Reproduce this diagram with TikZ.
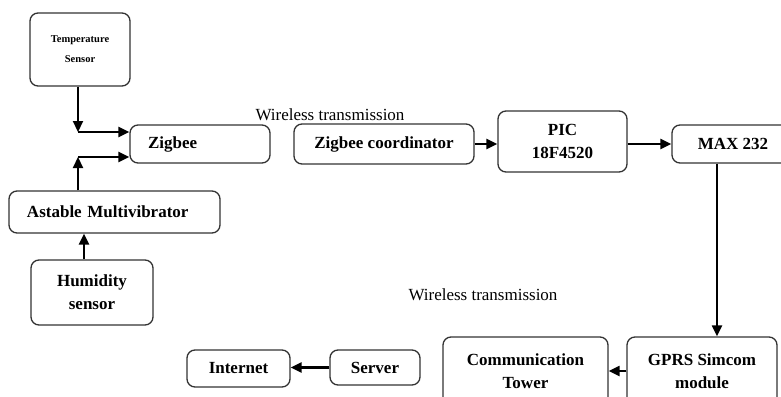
\documentclass[tikz,border=0pt]{standalone}
\usepackage{fontspec}
\setmainfont{Liberation Serif}
\usetikzlibrary{arrows.meta,positioning,calc}

\begin{document}
\begin{tikzpicture}[x=1pt, y=-1pt,
    box/.style={draw=black!80, line width=1.3pt, rounded corners=8pt, align=center,
                inner sep=0pt, font=\fontsize{17}{23}\selectfont\bfseries},
    link/.style={black, line width=2.2pt, -{Triangle[length=11pt,width=10pt]}},
    note/.style={inner sep=0pt, font=\fontsize{17}{20}\selectfont}
  ]
  \useasboundingbox (0,0) rectangle (781,396);

  % Sensoren
  \node[box, minimum width=100pt, minimum height=73pt,
        font=\fontsize{10.5}{20}\selectfont\bfseries] (temp) at (80,49.5) {Temperature\\Sensor};
  \node[box, minimum width=211pt, minimum height=42pt, text width=175pt,
        inner xsep=18pt, align=left] (astable) at (114.5,212) {Astable Multivibrator};
  \node[box, minimum width=122pt, minimum height=65pt] (hum) at (92,292.5) {Humidity\\sensor};
  \node[box, minimum width=140pt, minimum height=38pt, text width=104pt,
        inner xsep=18pt, align=left] (zig) at (200,144) {Zigbee};

  % Empfangsseite
  \node[box, minimum width=180pt, minimum height=40pt] (coord) at (384,144) {Zigbee coordinator};
  \node[box, minimum width=129pt, minimum height=61pt] (pic) at (562.5,141.5) {PIC\\18F4520};
  \node[box, minimum width=122pt, minimum height=38pt] (max) at (733,144) {MAX 232};

  % Weiterleitung
  \node[box, minimum width=150pt, minimum height=68pt] (gprs) at (702,371) {GPRS Simcom\\module};
  \node[box, minimum width=165pt, minimum height=68pt] (tower) at (525.5,371) {Communication\\Tower};
  \node[box, minimum width=90pt, minimum height=35pt] (server) at (375,367.5) {Server};
  \node[box, minimum width=103pt, minimum height=37pt] (inet) at (238.5,368.5) {Internet};

  % Beschriftungen
  \node[note, anchor=base] (wl1) at (330,120) {Wireless transmission};
  \node[note, anchor=base] (wl2) at (483,300) {Wireless transmission};

  % Verbindungen
  \coordinate (j1) at (78,132);
  \coordinate (j2) at (78,157);
  \draw[link] (temp.south -| j1) -- (j1);
  \draw[link] (j1) -- (j1 -| zig.west);
  \draw[link] (astable.north -| j2) -- (j2);
  \draw[link] (j2) -- (j2 -| zig.west);
  \draw[link] ([xshift=-8pt]hum.north) -- ([xshift=-8pt]hum.north |- astable.south);
  \draw[link] (coord.east) -- (coord.east -| pic.west);
  \draw[link] (pic.east |- max.west) -- (max.west);
  \draw[link] ([xshift=-16pt]max.south) -- ([xshift=-16pt]max.south |- gprs.north);
  \draw[link] (gprs.west) -- (gprs.west -| tower.east);
  \draw[link] (server.west) -- (server.west -| inet.east);
\end{tikzpicture}
\end{document}
